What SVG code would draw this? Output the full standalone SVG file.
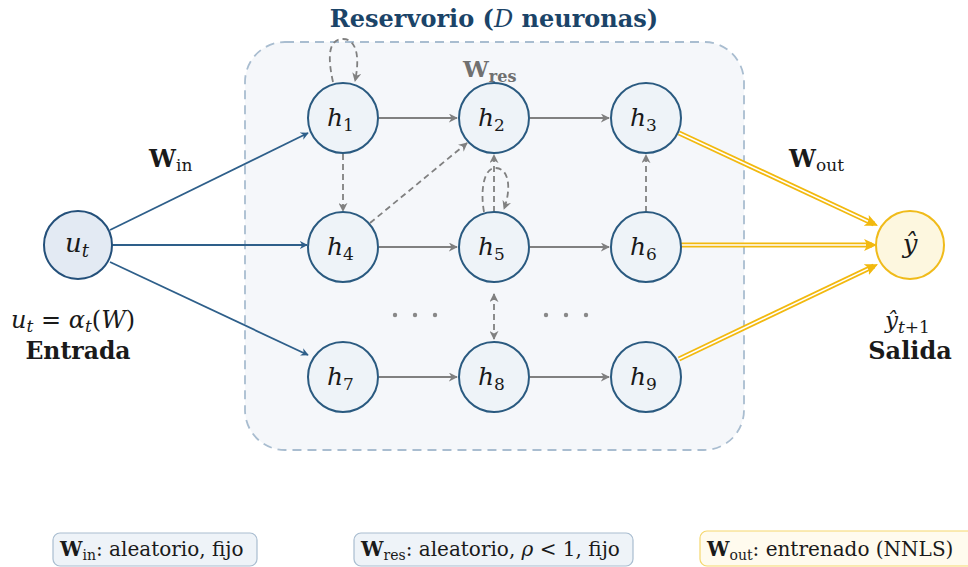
<svg xmlns="http://www.w3.org/2000/svg" width="968" height="567" viewBox="0 0 968 567">
  <defs>
    <style>
      text { font-family: "DejaVu Serif", "Liberation Serif", serif; }
      .math { font-style: italic; fill: #1a1a1a; }
      .rm { font-style: normal; font-weight: normal; fill: #1a1a1a; }
      .bold { font-weight: bold; fill: #1a1a1a; }
      .node { fill: #eef3f8; stroke: #2a5a80; stroke-width: 2; }
      .input { fill: #e3eaf3; stroke: #24507a; stroke-width: 2; }
      .output { fill: #fdf7df; stroke: #f0bb1a; stroke-width: 2; }
      .blue { stroke: #2e5f8a; stroke-width: 1.8; fill: none; marker-end: url(#ahBlue); }
      .gray { stroke: #808080; stroke-width: 1.8; fill: none; marker-end: url(#ahGray); }
      .dash { stroke: #808080; stroke-width: 1.8; fill: none; stroke-dasharray: 6 4; marker-end: url(#ahGray); }
      .yout { stroke: #f2b90f; stroke-width: 5.2; fill: none; }
      .ygap { stroke: #ffffff; stroke-width: 1.6; fill: none; }
    </style>
    <marker id="ahBlue" viewBox="0 0 10 10" refX="9" refY="5" markerWidth="8" markerHeight="8" markerUnits="userSpaceOnUse" orient="auto">
      <path d="M0,0 L10,5 L0,10 L3,5 Z" fill="#2e5f8a"/>
    </marker>
    <marker id="ahGray" viewBox="0 0 10 10" refX="9" refY="5" markerWidth="9" markerHeight="9" markerUnits="userSpaceOnUse" orient="auto-start-reverse">
      <path d="M0,0 L10,5 L0,10 L3,5 Z" fill="#808080"/>
    </marker>
    <marker id="ahYellow" viewBox="0 0 12 12" refX="11" refY="6" markerWidth="13" markerHeight="13" markerUnits="userSpaceOnUse" orient="auto">
      <path d="M0,0.5 L12,6 L0,11.5 L3,6 Z" fill="#f2b90f"/>
    </marker>
  </defs>

  <rect width="968" height="567" fill="#ffffff"/>

  <!-- reservoir container -->
  <g id="reservoir">
    <rect x="245" y="42" width="499" height="408" rx="40" fill="#f5f7fa" stroke="#a9bdd0" stroke-width="1.8" stroke-dasharray="9 6"/>
    <text x="494" y="27" text-anchor="middle" font-weight="bold" font-size="24" fill="#1b4468">Reservorio (<tspan font-style="italic" font-weight="normal">D</tspan> neuronas)</text>
    <text x="463" y="77" font-weight="bold" font-size="23" fill="#707070">W<tspan font-size="16" dy="5">res</tspan></text>
  </g>

  <!-- connectors -->
  <g id="connectors">
    <!-- input weights -->
    <line class="blue" x1="110" y1="230" x2="308" y2="133"/>
    <line class="blue" x1="112" y1="245" x2="307" y2="245"/>
    <line class="blue" x1="110" y1="262" x2="308" y2="355"/>

    <!-- reservoir recurrences -->
    <line class="gray" x1="379" y1="118" x2="457" y2="118"/>
    <line class="gray" x1="530" y1="118" x2="609" y2="118"/>
    <line class="gray" x1="379" y1="247" x2="457" y2="247"/>
    <line class="gray" x1="530" y1="247" x2="609" y2="247"/>
    <line class="gray" x1="379" y1="377" x2="457" y2="377"/>
    <line class="gray" x1="530" y1="377" x2="609" y2="377"/>

    <line class="dash" x1="343" y1="154" x2="343" y2="211"/>
    <line class="dash" x1="370" y1="223" x2="467" y2="143"/>
    <line class="dash" x1="494" y1="212" x2="494" y2="155"/>
    <line class="dash" x1="646" y1="212" x2="646" y2="155"/>
    <line class="dash" x1="494" y1="294" x2="494" y2="339" marker-start="url(#ahGray)"/>
    <path class="dash" d="M333 82 C 327 55, 329 39, 343 39 C 357 39, 360 58, 355 81"/>
    <path class="dash" d="M484 212 C 480 190, 484 167, 496 168 C 510 169, 511 190, 504 209"/>

    <!-- output weights (double lines) -->
    <g>
      <line class="yout" x1="679" y1="133" x2="874" y2="224"/>
      <line class="ygap" x1="679" y1="133" x2="868" y2="221.2"/>
      <line x1="868" y1="221.2" x2="877" y2="225.4" stroke="#f2b90f" stroke-width="1" marker-end="url(#ahYellow)"/>
      <line class="yout" x1="681" y1="245" x2="872" y2="245"/>
      <line class="ygap" x1="681" y1="245" x2="866" y2="245"/>
      <line x1="866" y1="245" x2="876" y2="245" stroke="#f2b90f" stroke-width="1" marker-end="url(#ahYellow)"/>
      <line class="yout" x1="679" y1="359" x2="874" y2="266"/>
      <line class="ygap" x1="679" y1="359" x2="868" y2="268.9"/>
      <line x1="868" y1="268.9" x2="877" y2="264.6" stroke="#f2b90f" stroke-width="1" marker-end="url(#ahYellow)"/>
    </g>

    <text x="149" y="167" class="bold" font-size="24">W<tspan class="rm" font-size="17" dy="4">in</tspan></text>
    <text x="789" y="167" class="bold" font-size="24">W<tspan class="rm" font-size="17" dy="4">out</tspan></text>
  </g>

  <!-- input node -->
  <g id="input">
    <circle class="input" cx="78" cy="245" r="34"/>
    <text x="65" y="252" class="math" font-size="26">u<tspan font-size="18" dy="5">t</tspan></text>
    <text x="11" y="328" class="math" font-size="24">u<tspan font-size="17" dy="4">t</tspan><tspan class="rm" dy="-4"> = </tspan>α<tspan font-size="17" dy="4">t</tspan><tspan class="rm" dy="-4">(</tspan>W<tspan class="rm">)</tspan></text>
    <text x="78" y="359" text-anchor="middle" class="bold" font-size="23.5">Entrada</text>
  </g>

  <!-- reservoir neurons -->
  <g id="h1"><circle class="node" cx="343" cy="118" r="35"/><text x="327" y="126" class="math" font-size="25">h<tspan class="rm" font-size="17" dy="5">1</tspan></text></g>
  <g id="h2"><circle class="node" cx="494" cy="118" r="35"/><text x="478" y="126" class="math" font-size="25">h<tspan class="rm" font-size="17" dy="5">2</tspan></text></g>
  <g id="h3"><circle class="node" cx="646" cy="118" r="35"/><text x="630" y="126" class="math" font-size="25">h<tspan class="rm" font-size="17" dy="5">3</tspan></text></g>
  <g id="h4"><circle class="node" cx="343" cy="247" r="35"/><text x="327" y="255" class="math" font-size="25">h<tspan class="rm" font-size="17" dy="5">4</tspan></text></g>
  <g id="h5"><circle class="node" cx="494" cy="247" r="35"/><text x="478" y="255" class="math" font-size="25">h<tspan class="rm" font-size="17" dy="5">5</tspan></text></g>
  <g id="h6"><circle class="node" cx="646" cy="247" r="35"/><text x="630" y="255" class="math" font-size="25">h<tspan class="rm" font-size="17" dy="5">6</tspan></text></g>
  <g id="h7"><circle class="node" cx="343" cy="377" r="35"/><text x="327" y="385" class="math" font-size="25">h<tspan class="rm" font-size="17" dy="5">7</tspan></text></g>
  <g id="h8"><circle class="node" cx="494" cy="377" r="35"/><text x="478" y="385" class="math" font-size="25">h<tspan class="rm" font-size="17" dy="5">8</tspan></text></g>
  <g id="h9"><circle class="node" cx="646" cy="377" r="35"/><text x="630" y="385" class="math" font-size="25">h<tspan class="rm" font-size="17" dy="5">9</tspan></text></g>

  <!-- ellipsis between rows -->
  <g id="ellipsis" fill="#888888">
    <circle cx="395" cy="315" r="2.2"/><circle cx="415" cy="315" r="2.2"/><circle cx="435" cy="315" r="2.2"/>
    <circle cx="546" cy="315" r="2.2"/><circle cx="566" cy="315" r="2.2"/><circle cx="586" cy="315" r="2.2"/>
  </g>

  <!-- output node -->
  <g id="output">
    <circle class="output" cx="910" cy="245" r="34"/>
    <text x="910" y="253" text-anchor="middle" class="math" font-size="26">ŷ</text>
    <text x="885" y="328" class="math" font-size="23">ŷ<tspan font-size="17" dy="5">t</tspan><tspan class="rm" font-size="17">+1</tspan></text>
    <text x="910" y="359" text-anchor="middle" class="bold" font-size="24">Salida</text>
  </g>

  <!-- legend -->
  <g id="legend-in">
    <rect x="53" y="533" width="204" height="33" rx="7" fill="#eef3f8" stroke="#a9bdd0" stroke-width="1.2"/>
    <text x="60" y="556" class="bold" font-size="20">W<tspan class="rm" font-size="14" dy="4">in</tspan><tspan class="rm" dy="-4">: aleatorio, fijo</tspan></text>
  </g>
  <g id="legend-res">
    <rect x="354" y="533" width="279" height="33" rx="7" fill="#eef3f8" stroke="#a9bdd0" stroke-width="1.2"/>
    <text x="361" y="556" class="bold" font-size="20">W<tspan class="rm" font-size="14" dy="4">res</tspan><tspan class="rm" dy="-4">: aleatorio, </tspan><tspan class="math" font-weight="normal">ρ</tspan><tspan class="rm"> &lt; 1, fijo</tspan></text>
  </g>
  <g id="legend-out">
    <rect x="700" y="531" width="276" height="35" rx="7" fill="#fffbee" stroke="#f5d76e" stroke-width="1.2"/>
    <text x="707" y="556" class="bold" font-size="20">W<tspan class="rm" font-size="14" dy="4">out</tspan><tspan class="rm" dy="-4">: entrenado (NNLS)</tspan></text>
  </g>
</svg>
